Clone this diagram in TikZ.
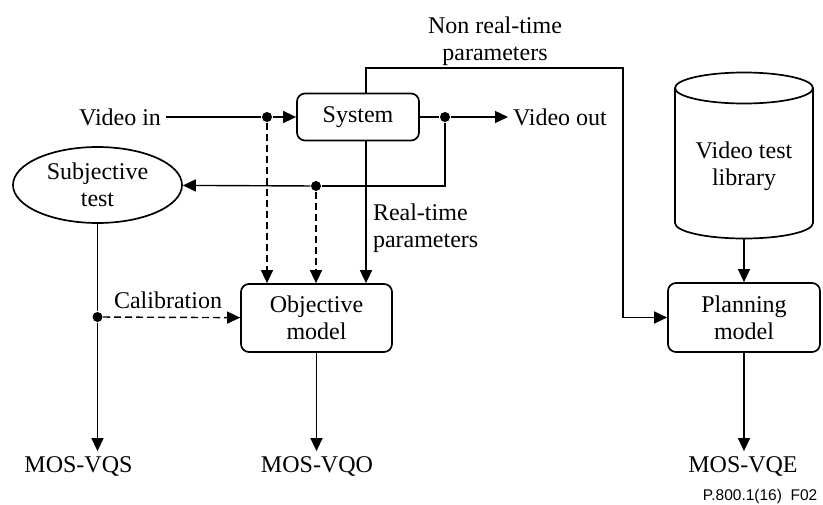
\documentclass[tikz,border=0pt]{standalone}
\usepackage{fontspec}
\setmainfont{Liberation Serif}
\newfontfamily\labelsans{Liberation Sans}
\usetikzlibrary{arrows.meta}
\usetikzlibrary{shapes.geometric}

\begin{document}
\begin{tikzpicture}[x=1pt, y=-1pt,
  font=\fontsize{24}{27}\selectfont,
  line width=1.4pt,
  >={Triangle[length=13pt,width=12pt]},
  box/.style={draw, line width=1.7pt, rounded corners=8pt, align=center, inner sep=0pt},
  txt/.style={inner sep=0pt, outer sep=5pt, align=center},
  dot/.style={circle, fill, inner sep=0pt, minimum size=10pt},
  dashline/.style={dash pattern=on 7pt off 4pt}]
\useasboundingbox (0,0) rectangle (823,504);
% blocks
\node[box, minimum width=122pt, minimum height=47pt] (system) at (358,117) {System};
\node[box, minimum width=151pt, minimum height=68pt] (objective) at (316.5,318) {Objective\\model};
\node[box, minimum width=152pt, minimum height=69pt] (planning) at (744,317.5) {Planning\\model};
\node[draw, ellipse, line width=1.7pt, inner sep=0pt, minimum width=169pt, minimum height=76pt, align=center] (subjective) at (97.5,185) {Subjective\\test};
% video test library
\draw[line width=1.7pt] (744,88) ellipse [x radius=69pt, y radius=15.5pt];
\draw[line width=1.7pt] (675,88) -- (675,223) arc [start angle=180, end angle=360, x radius=69pt, y radius=15.5pt] -- (813,88);
\node[txt] (library) at (744,166) {Video test\\library};
\coordinate (libbot) at (744,238.5);
% labels
\node[txt, anchor=east] (videoin) at (166,117) {Video in};
\node[txt, anchor=west] (videoout) at (508,117) {Video out};
\node[txt] (nonrt) at (495,41) {Non real-time\\parameters};
\node[txt, align=left, anchor=west] (rtpar) at (368,228) {Real-time\\parameters};
\node[txt] (calib) at (168,300) {Calibration};
\node[txt, anchor=base] (vqs) at (78.5,472) {MOS-VQS};
\node[txt, anchor=base] (vqo) at (317,472) {MOS-VQO};
\node[txt, anchor=base] (vqe) at (743,472) {MOS-VQE};
\node[anchor=base east, inner sep=0pt, font=\labelsans\fontsize{15.5}{18}\selectfont] (figno) at (818,500) {P.800.1(16)\ \ F02};
% branch points
\node[dot] (d1) at (267,117) {};
\node[dot] (d2) at (445,117) {};
\node[dot] (d3) at (316,186) {};
\node[dot] (d4) at (97.5,317) {};
\coordinate (turn) at (445,186);
\coordinate (rt) at (366,0);
\coordinate (nrt) at (623,68);
% connections
\draw (videoin) -- (d1);
\draw[->] (d1) -- (system);
\draw (system) -- (d2);
\draw[->] (d2) -- (videoout);
\draw (d2) -- (turn) -- (d3);
\draw[->] (d3) -- (subjective);
\draw[->, dashline] (d1) -- (d1 |- objective.north);
\draw[->, dashline] (d3) -- (d3 |- objective.north);
\draw[->] (system.south -| rt) -- (rt |- objective.north);
\draw[->] (system.north -| rt) |- (nrt) |- (planning);
\draw (subjective) -- (d4);
\draw[->] (d4) -- (d4 |- vqs.north);
\draw[->, dashline] (d4) -- (objective);
\draw[->] (objective.south) -- (objective.south |- vqo.north);
\draw[->] (libbot) -- (planning);
\draw[->] (planning.south) -- (planning.south |- vqe.north);
\end{tikzpicture}
\end{document}
